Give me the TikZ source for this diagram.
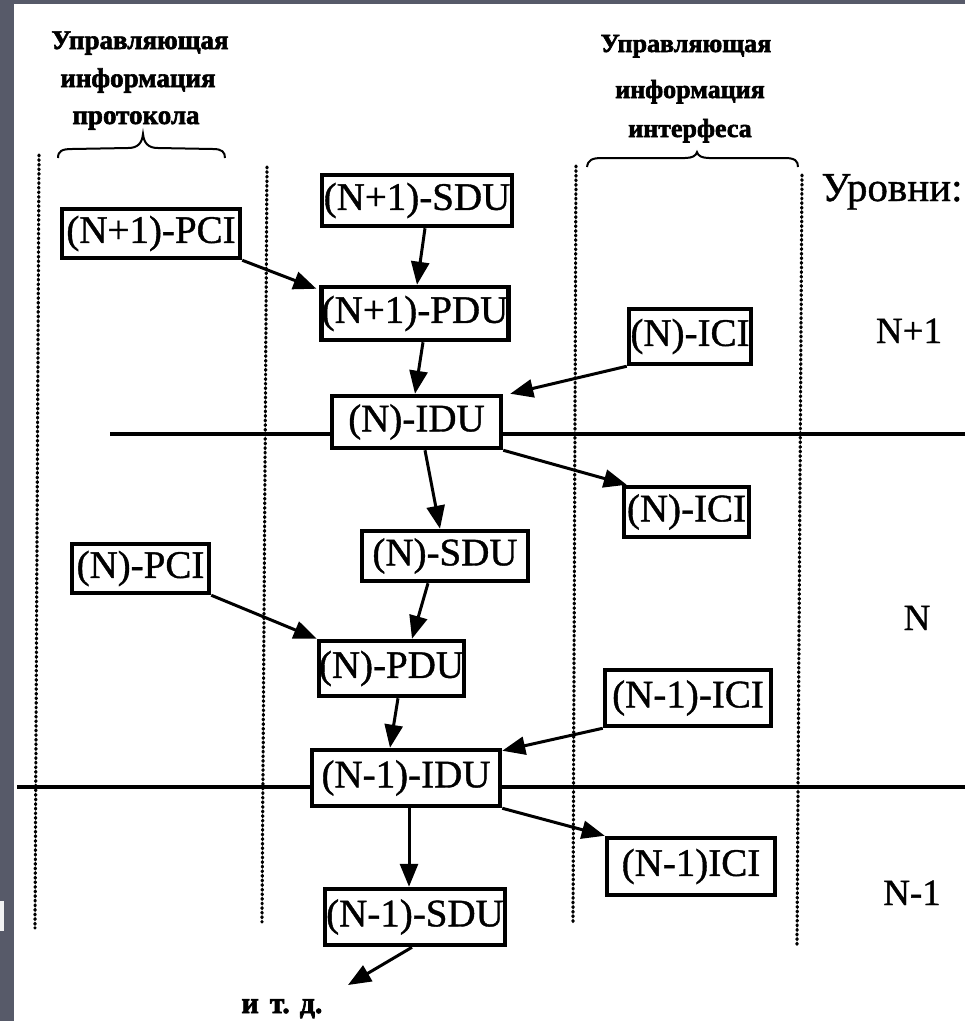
\documentclass[tikz,border=0pt]{standalone}
\usepackage{fontspec}
\setmainfont{Liberation Serif}
\newfontfamily\unitfont{Liberation Serif}[FakeBold=1.0]
\newfontfamily\headfont{Liberation Serif}[FakeBold=2.2]
\usetikzlibrary{arrows.meta}

\definecolor{slate}{RGB}{87,90,105}

\begin{document}
\begin{tikzpicture}[x=1pt,y=-1pt,
  unit/.style 2 args={draw, line width=4.5pt, fill=white, inner sep=0pt,
    minimum width=#1, minimum height=#2,
    font=\unitfont\fontsize{39}{40}\selectfont},
  flow/.style={line width=3pt, -{Triangle[length=23pt,width=18pt]}},
  border/.style={line width=3.2pt, dash pattern=on 1pt off 3.6pt, line cap=round},
  layer/.style={line width=3.2pt},
  bracket/.style={line width=2pt},
  hdr/.style={anchor=base, inner sep=0pt, font=\headfont\bfseries\fontsize{#1}{#1}\selectfont},
  lvl/.style={anchor=base, inner sep=0pt, font=\unitfont\fontsize{#1}{#1}\selectfont}
]
\useasboundingbox (0,0) rectangle (965,1021);
\fill[white] (0,0) rectangle (965,1021);

% slide frame
\fill[slate] (0,0) rectangle (14,1021);
\fill[slate] (0,0) rectangle (965,4);
\fill[white!92!slate] (0,901) rectangle (4,931);

% column borders
\draw[border] (39,155) -- (35,928);
\draw[border] (267,167) -- (262,922);
\draw[border] (576,166) -- (573,922);
\draw[border] (802,175) -- (797,947);

% layer boundaries
\draw[layer] (110,434) -- (965,434);
\draw[layer] (17,787) -- (965,787);

% column headings
\node[hdr=27] (p1) at (140,49) {Управляющая};
\node[hdr=27] (p2) at (138,87) {информация};
\node[hdr=27] (p3) at (136,124) {протокола};
\node[hdr=26] (i1) at (686,52) {Управляющая};
\node[hdr=26] (i2) at (690,98) {информация};
\node[hdr=26] (i3) at (690,137) {интерфеса};

% braces under the headings
\draw[bracket] (58,158) .. controls (58,151) and (62,149) .. (72,149)
  -- (128,148) .. controls (138,148) and (142,143) .. (143,134)
  .. controls (144,143) and (148,148) .. (158,148)
  -- (213,149) .. controls (222,149) and (225,152) .. (225,158);
\draw[bracket] (587,167) .. controls (588,160) and (592,158) .. (602,158)
  -- (685,158) .. controls (692,158) and (696,156) .. (697,152)
  .. controls (698,156) and (702,158) .. (709,158)
  -- (785,158) .. controls (795,158) and (798,161) .. (798,167);

% level labels
\node[lvl=41] (levels) at (892,201) {Уровни:};
\node[lvl=37] (lvlA) at (909,343) {N+1};
\node[lvl=37] (lvlB) at (917,630) {N};
\node[lvl=37] (lvlC) at (912,905) {N-1};

% data units
\node[unit={178pt}{49pt}] (pci1) at (151,233.5) {(N+1)-PCI};
\node[unit={190pt}{51pt}] (sdu1) at (417,200.5) {(N+1)-SDU};
\node[unit={182pt}{53pt}] (pdu1) at (415,313.5) {(N+1)-PDU};
\node[unit={122pt}{55pt}] (ici1) at (690,336.5) {(N)-ICI};
\node[unit={169pt}{52pt}] (idu1) at (416.5,422) {(N)-IDU};
\node[unit={125pt}{50pt}] (ici2) at (686.5,512) {(N)-ICI};
\node[unit={166pt}{50pt}] (sdu2) at (445,556) {(N)-SDU};
\node[unit={137pt}{49pt}] (pci2) at (140.5,568.5) {(N)-PCI};
\node[unit={145pt}{55pt}] (pdu2) at (391.5,668.5) {(N)-PDU};
\node[unit={166pt}{56pt}] (ici3) at (688,698) {(N-1)-ICI};
\node[unit={188pt}{56pt}] (idu2) at (406,778) {(N-1)-IDU};
\node[unit={168pt}{57pt}] (ici4) at (691,866.5) {(N-1)ICI};
\node[unit={180pt}{56pt}] (sdu3) at (415,917) {(N-1)-SDU};

\node[hdr=30] (etc) at (282,1013) {и\hspace{11pt}т.\hspace{10pt}д.};
\coordinate (more) at (348,985);

% flow between units
\draw[flow] (pci1.south east) -- ([xshift=-3pt,yshift=-4pt]pdu1.north west);
\draw[flow] ([xshift=8pt]sdu1.south) -- ([xshift=2pt]pdu1.north);
\draw[flow] ([xshift=8pt]pdu1.south) -- ([xshift=-1.5pt]idu1.north);
\draw[flow] (ici1.south west) -- ([xshift=7pt]idu1.north east);
\draw[flow] (idu1.south east) -- ([xshift=5pt]ici2.north west);
\draw[flow] ([xshift=8.5pt]idu1.south) -- ([xshift=-5pt]sdu2.north);
\draw[flow] ([xshift=-17pt]sdu2.south) -- ([xshift=20.5pt]pdu2.north);
\draw[flow] (pci2.south east) -- (pdu2.north west);
\draw[flow] ([xshift=6.5pt]pdu2.south) -- ([xshift=-16pt]idu2.north);
\draw[flow] (ici3.south west) -- ([yshift=-3pt]idu2.north east);
\draw[flow] (idu2.south east) -- (ici4.north west);
\draw[flow] ([xshift=3pt]idu2.south) -- ([xshift=-6pt]sdu3.north);
\draw[flow] ([xshift=-3pt]sdu3.south) -- (more);
\end{tikzpicture}
\end{document}
